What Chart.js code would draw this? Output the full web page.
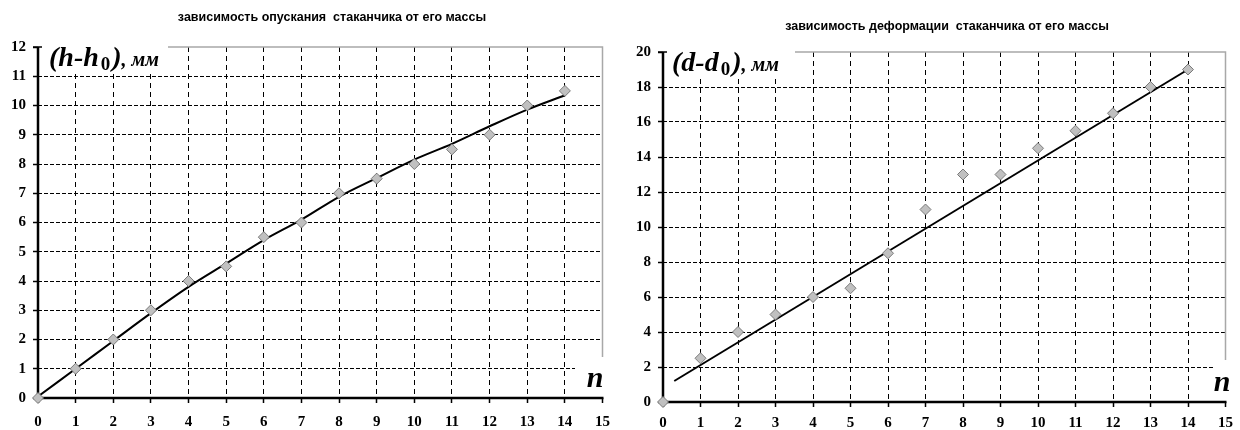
<!DOCTYPE html>
<html><head><meta charset="utf-8">
<script src="https://cdn.jsdelivr.net/npm/chart.js@4"></script>
<style>
html,body{margin:0;padding:0;background:#fff;}
#wrap{position:relative;width:1240px;height:430px;overflow:hidden;}
.c{position:absolute;top:0;width:620px;height:430px;}
</style></head><body>
<div id="wrap">
<div class="c" style="left:0"><canvas id="c1" width="620" height="430"></canvas></div>
<div class="c" style="left:620px"><canvas id="c2" width="620" height="430"></canvas></div>
</div>
<script>
// ---------- data ----------
const nValues = [0,1,2,3,4,5,6,7,8,9,10,11,12,13,14];
const sinkValues = [0,1,2,3,4,4.5,5.5,6,7,7.5,8,8.5,9,10,10.5];
const sinkTrend = [0.05,1.0,1.95,2.9,3.8,4.6,5.4,6.1,6.88,7.52,8.15,8.69,9.29,9.86,10.35];
const deformValues = [0,2.5,4,5,6,6.5,8.5,11,13,13,14.5,15.5,16.5,18,19];
const deformTrendN = [0.3,14];
const deformTrendV = [1.2,19];
const xTickMax = 15;
const sinkTickMax = 12, sinkStep = 1;
const deformTickMax = 20, deformStep = 2;
const titleSink = 'зависимость опускания  стаканчика от его массы';
const titleDeform = 'зависимость деформации  стаканчика от его массы';
const ySinkLabel = ['(h-h', '0', ')', ', мм'];
const yDeformLabel = ['(d-d', '0', ')', ', мм'];
const xLabel = 'n';

const pts = (xs, ys) => xs.map((v,i)=>({x:v,y:ys[i]}));

function decor(o){
  return {id:'decor'+o.id, beforeDatasetsDraw(chart){
    const {ctx, chartArea:a} = chart;
    const [bTop, bBottom, bRight] = o.lblBox;
    ctx.save();
    ctx.fillStyle='#fff';
    ctx.fillRect(a.left+2, bTop, bRight-a.left-2, bBottom-bTop);
    ctx.fillRect(o.nBox[0], o.nBox[1], a.right+6-o.nBox[0], a.bottom-2-o.nBox[1]);
    // grey frame
    ctx.strokeStyle='#a8a8a8'; ctx.lineWidth=1.5;
    ctx.beginPath(); ctx.moveTo(bRight, a.top); ctx.lineTo(a.right, a.top); ctx.lineTo(a.right, o.nBox[1]); ctx.stroke();
    // axes
    ctx.strokeStyle='#000'; ctx.lineWidth=2.5;
    ctx.beginPath(); ctx.moveTo(a.left, a.top); ctx.lineTo(a.left, a.bottom); ctx.lineTo(a.right+1, a.bottom); ctx.stroke();
    ctx.lineWidth=1.5;
    ctx.beginPath(); ctx.moveTo(a.left-5, a.top); ctx.lineTo(a.left+4, a.top); ctx.stroke();
    // title
    ctx.fillStyle='#000';
    ctx.font='bold 12.5px "Liberation Sans", Arial, sans-serif';
    ctx.textAlign='center'; ctx.textBaseline='middle';
    ctx.fillText(o.title, o.titleX, o.titleY);
    // y label
    ctx.textAlign='left'; ctx.textBaseline='alphabetic';
    const fonts=['italic bold 28px "Liberation Serif"','bold 19px "Liberation Serif"','italic bold 28px "Liberation Serif"','italic bold 20px "Liberation Serif"'];
    const dys=[0,4,0,0];
    const gaps=[2,2,0,0];
    let x=o.lblX;
    o.lbl.forEach((t,i)=>{ ctx.font=fonts[i]; ctx.fillText(t,x,o.lblY+dys[i]); x+=ctx.measureText(t).width + gaps[i]; });
    // n label
    ctx.font='italic bold 30px "Liberation Serif"';
    ctx.textAlign='center';
    ctx.fillText(xLabel, o.nX, o.nY);
    ctx.restore();
  }};
}

function makeChart(id, o){
  const hide = (c, vals)=> (c.tick && vals.includes(c.tick.value)) ? 'rgba(0,0,0,0)' : '#000';
  return new Chart(document.getElementById(id), {
    type:'scatter',
    data:{datasets:[
      {data:o.trend, showLine:true, borderColor:'#000', borderWidth:2, pointRadius:0, cubicInterpolationMode:'monotone', fill:false, order:2},
      {data:o.points, pointStyle:'rectRot', pointRadius:5.5, pointHoverRadius:5.5, backgroundColor:'#c0c0c0', borderColor:'#7a7a7a', borderWidth:1, clip:false, order:1}
    ]},
    options:{
      responsive:false, animation:false, devicePixelRatio:1,
      layout:{padding:{top:o.top, right:o.right, left:0, bottom:0}},
      plugins:{legend:{display:false}, tooltip:{enabled:false}, title:{display:false}},
      scales:{
        x:{type:'linear', min:0, max:xTickMax,
          afterFit:s=>{s.height=o.xh;},
          ticks:{stepSize:1, padding:o.xpad, color:'#000', font:{family:'"Liberation Serif"', weight:'bold', size:15}},
          grid:{color:c=>hide(c,[0,xTickMax]), lineWidth:1, tickColor:'#000', tickLength:5, tickWidth:1.5},
          border:{display:false, dash:[5,4]}},
        y:{type:'linear', min:0, max:o.ymax,
          afterFit:s=>{s.width=o.yw;},
          ticks:{stepSize:o.step, padding:7, color:'#000', font:{family:'"Liberation Serif"', weight:'bold', size:15}},
          grid:{color:c=>hide(c,[0,o.ymax]), lineWidth:1, tickColor:'#000', tickLength:5, tickWidth:1.5},
          border:{display:false, dash:[4,2]}}
      }
    },
    plugins:[decor(o)]
  });
}

makeChart('c1', {id:1, points:pts(nValues,sinkValues), trend:pts(nValues,sinkTrend), ymax:sinkTickMax, step:sinkStep,
  top:47, right:16, xh:32, yw:38, xpad:10,
  title:titleSink, titleX:332, titleY:18,
  lbl:ySinkLabel, lblX:49, lblY:66, lblBox:[30,73,168],
  nBox:[575,357], nX:595, nY:387});
makeChart('c2', {id:2, points:pts(nValues,deformValues), trend:pts(deformTrendN,deformTrendV), ymax:deformTickMax, step:deformStep,
  top:52, right:12, xh:28, yw:43, xpad:7,
  title:titleDeform, titleX:327, titleY:27,
  lbl:yDeformLabel, lblX:52, lblY:71, lblBox:[35,78,175],
  nBox:[594,360], nX:602, nY:391});
</script>
</body></html>
